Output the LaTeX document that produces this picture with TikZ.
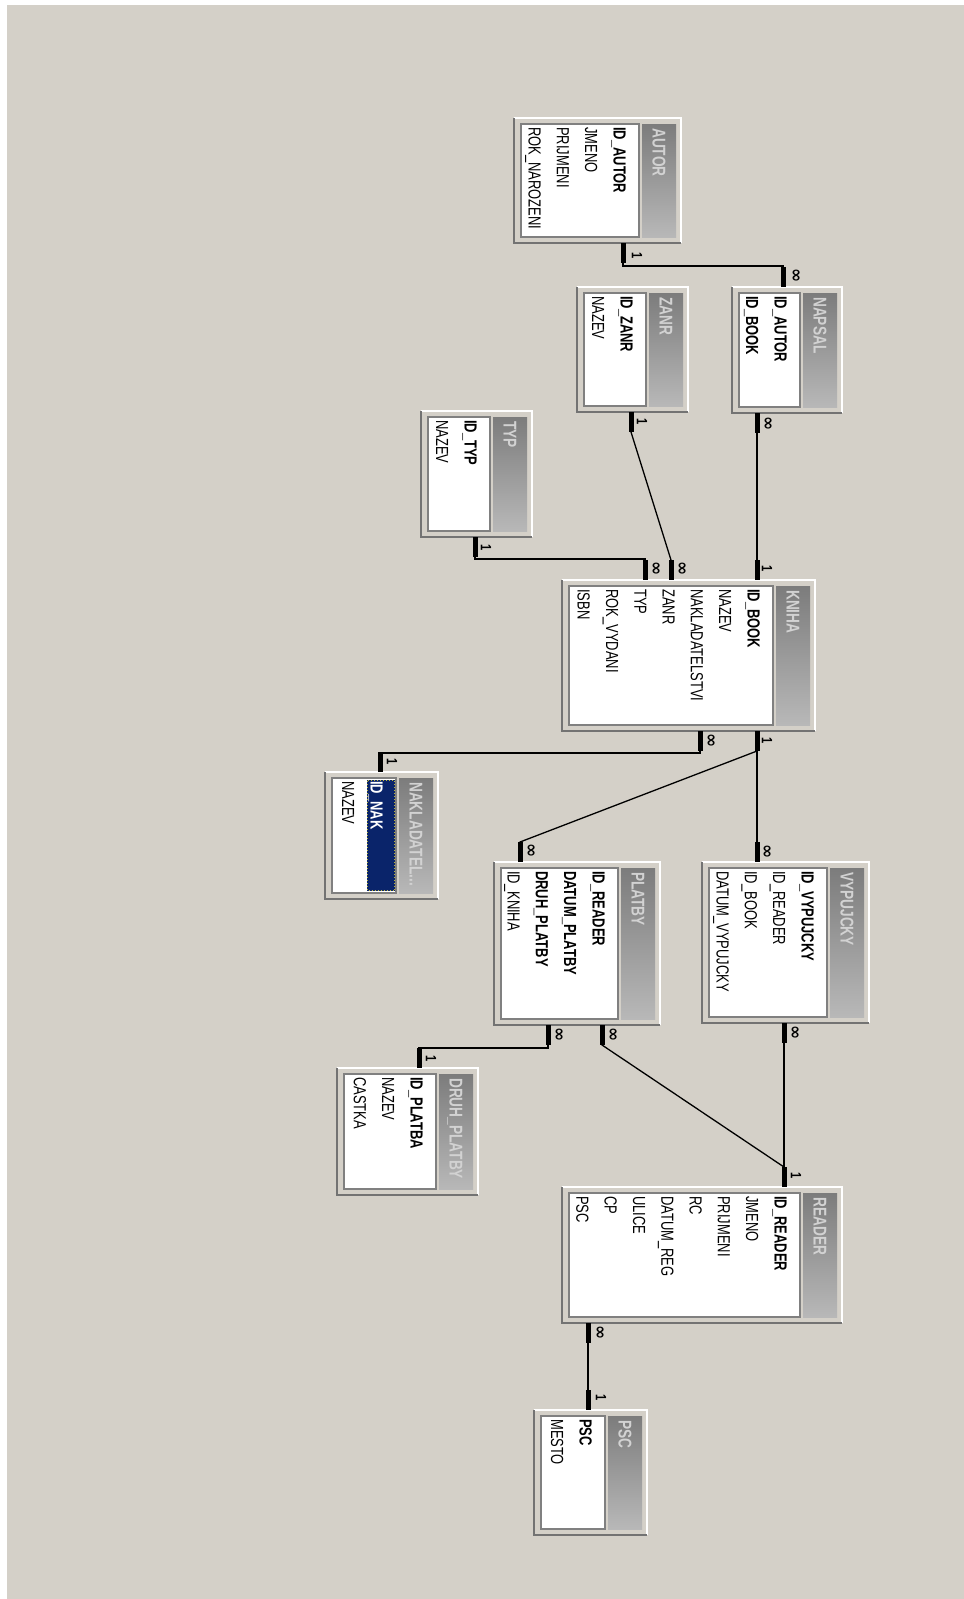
\documentclass[tikz,border=0pt]{standalone}
\usepackage{fontspec}
\usetikzlibrary{fit,calc}
\newfontfamily\erfont[FakeStretch=0.74]{Liberation Sans}
\newfontfamily\symfont{DejaVu Sans}
\definecolor{winbg}{HTML}{D4D0C8}
\definecolor{stripdark}{HTML}{7C7C7C}
\definecolor{striplight}{HTML}{B8B8B8}
\definecolor{titlegray}{HTML}{D2D2D2}
\definecolor{selnavy}{HTML}{0A246A}

\tikzset{
  frameshadow/.style={draw=black!55, line width=2.5pt},
  framelight/.style={draw=white, line width=1.5pt},
  panel/.style={fill=white, draw=black!50, line width=1.5pt},
  fnorm/.style={rotate=-90, anchor=base west, inner sep=0pt,
    font=\erfont\fontsize{17.5}{19}\selectfont},
  fkey/.style={fnorm, font=\erfont\bfseries\fontsize{17.5}{19}\selectfont},
  fsel/.style={fkey, text=white},
  ttitle/.style={rotate=-90, anchor=base west, inner sep=0pt, text=titlegray,
    font=\erfont\bfseries\fontsize{18.5}{20}\selectfont},
  endmark/.style={line width=5pt},
  link/.style={line width=1.3pt},
  lblone/.style={rotate=-90, inner sep=0pt, font=\erfont\bfseries\fontsize{15}{15}\selectfont},
  lblmany/.style={rotate=-90, inner sep=0pt, font=\symfont\bfseries\fontsize{17}{17}\selectfont},
}

% #1 name, #2..#5 outer box (x1,y1,x2,y2), #6 title, #7 fields, #8 extra drawing on the panel
\newcommand\erTable[8]{%
  \fill[winbg] (#2,#3) rectangle (#4,#5);
  \draw[framelight] (#2,#3) -- (#4,#3) -- (#4,#5);
  \draw[frameshadow] (#2,#3) -- (#2,#5) -- (#4,#5);
  \draw[panel] ({#2+7},{#3+6}) rectangle ({#4-42},{#5-6});
  \shade[top color=stripdark, bottom color=striplight] ({#4-39},{#3+6}) rectangle ({#4-5},{#5-6});
  #8
  \node[ttitle] at ({#4-28.5},{#3+10}) {#6};
  \foreach \fsty/\fname [count=\fidx from 0] in {#7}
    \node[\fsty] at ({#4-67.5-28.3*\fidx},{#3+9}) {\fname};
  \node[fit={(#2,#3) (#4,#5)}, inner sep=0pt] (#1) {};
}

\begin{document}
\begin{tikzpicture}[x=1pt, y=-1pt]
\useasboundingbox (0,0) rectangle (964,1599);
\fill[white] (0,0) rectangle (964,1599);
\fill[winbg] (7,5) rectangle (964,1599);

% tables
\erTable{autor}{514}{118}{681}{243}{AUTOR}
  {fkey/ID\_AUTOR, fnorm/JMENO, fnorm/PRIJMENI, fnorm/ROK\_NAROZENI}{}
\erTable{zanr}{577}{287}{688}{412}{ZANR}
  {fkey/ID\_ZANR, fnorm/NAZEV}{}
\erTable{napsal}{732}{287}{842}{413}{NAPSAL}
  {fkey/ID\_AUTOR, fkey/ID\_BOOK}{}
\erTable{typ}{421}{411}{532}{537}{TYP}
  {fkey/ID\_TYP, fnorm/NAZEV}{}
\erTable{kniha}{562}{580}{815}{731}{KNIHA}
  {fkey/ID\_BOOK, fnorm/NAZEV, fnorm/NAKLADATELSTVI, fnorm/ZANR, fnorm/TYP, fnorm/ROK\_VYDANI, fnorm/ISBN}{}
\erTable{naklad}{325}{772}{438}{899}{NAKLADATEL...}
  {fsel/ID\_NAK, fnorm/NAZEV}
  {\fill[selnavy] (367,780) rectangle (395,891);
   \draw[yellow!70!black, dotted, line width=1pt] (367.5,780.5) rectangle (394.5,890.5);}
\erTable{platby}{494}{862}{660}{1025}{PLATBY}
  {fkey/ID\_READER, fkey/DATUM\_PLATBY, fkey/DRUH\_PLATBY, fnorm/ID\_KNIHA}{}
\erTable{vypujcky}{702}{862}{869}{1023}{VYPUJCKY}
  {fkey/ID\_VYPUJCKY, fnorm/ID\_READER, fnorm/ID\_BOOK, fnorm/DATUM\_VYPUJCKY}{}
\erTable{druh}{337}{1068}{478}{1195}{DRUH\_PLATBY}
  {fkey/ID\_PLATBA, fnorm/NAZEV, fnorm/CASTKA}{}
\erTable{reader}{562}{1187}{842}{1323}{READER}
  {fkey/ID\_READER, fnorm/JMENO, fnorm/PRIJMENI, fnorm/RC, fnorm/DATUM\_REG, fnorm/ULICE, fnorm/CP, fnorm/PSC}{}
\erTable{psc}{534}{1410}{647}{1535}{PSC}
  {fkey/PSC, fnorm/MESTO}{}

% AUTOR 1 -- oo NAPSAL
\draw[link] (autor.south -| 623,0) -- (623,266) -- (783,266) -- (napsal.north -| 783,0);
\draw[endmark] (autor.south -| 623,0) -- ++(0,20);
\draw[endmark] (napsal.north -| 783,0) -- ++(0,-20);
\node[lblone] (l1a) at (637,256) {1};
\node[lblmany] (l1b) at (796,276) {∞};

% NAPSAL oo -- 1 KNIHA
\draw[link] (napsal.south -| 757,0) -- (kniha.north -| 757,0);
\draw[endmark] (napsal.south -| 757,0) -- ++(0,20);
\draw[endmark] (kniha.north -| 757,0) -- ++(0,-20);
\node[lblmany] (l2a) at (768,424) {∞};
\node[lblone] (l2b) at (767,569) {1};

% ZANR 1 -- oo KNIHA
\draw[link] (zanr.south -| 631,0) -- (631,432) -- (671,560) -- (kniha.north -| 671,0);
\draw[endmark] (zanr.south -| 631,0) -- ++(0,20);
\draw[endmark] (kniha.north -| 671,0) -- ++(0,-20);
\node[lblone] (l3a) at (642,422) {1};
\node[lblmany] (l3b) at (682,569) {∞};

% TYP 1 -- oo KNIHA
\draw[link] (typ.south -| 475,0) -- (475,559) -- (645,559) -- (kniha.north -| 645,0);
\draw[endmark] (typ.south -| 475,0) -- ++(0,20);
\draw[endmark] (kniha.north -| 645,0) -- ++(0,-20);
\node[lblone] (l4a) at (486,548) {1};
\node[lblmany] (l4b) at (656,569) {∞};

% KNIHA oo -- 1 NAKLADATEL
\draw[link] (kniha.south -| 700,0) -- (700,753) -- (380,753) -- (naklad.north -| 380,0);
\draw[endmark] (kniha.south -| 700,0) -- ++(0,20);
\draw[endmark] (naklad.north -| 380,0) -- ++(0,-20);
\node[lblmany] (l5a) at (711,741) {∞};
\node[lblone] (l5b) at (392,762) {1};

% KNIHA 1 -- oo VYPUJCKY, KNIHA 1 -- oo PLATBY
\draw[link] (kniha.south -| 757,0) -- (vypujcky.north -| 757,0);
\draw[link] (757,751) -- (520,842) -- (platby.north -| 520,0);
\draw[endmark] (kniha.south -| 757,0) -- ++(0,20);
\draw[endmark] (vypujcky.north -| 757,0) -- ++(0,-20);
\draw[endmark] (platby.north -| 520,0) -- ++(0,-20);
\node[lblone] (l6a) at (767,741) {1};
\node[lblmany] (l6b) at (767,852) {∞};
\node[lblmany] (l7b) at (531,851) {∞};

% PLATBY oo -- 1 DRUH_PLATBY
\draw[link] (platby.south -| 548,0) -- (548,1048) -- (419,1048) -- (druh.north -| 419,0);
\draw[endmark] (platby.south -| 548,0) -- ++(0,20);
\draw[endmark] (druh.north -| 419,0) -- ++(0,-20);
\node[lblmany] (l8a) at (559,1035) {∞};
\node[lblone] (l8b) at (431,1059) {1};

% PLATBY oo -- 1 READER, VYPUJCKY oo -- 1 READER
\draw[link] (platby.south -| 602,0) -- (602,1045) -- (784,1167) -- (reader.north -| 784,0);
\draw[link] (vypujcky.south -| 784,0) -- (reader.north -| 784,0);
\draw[endmark] (platby.south -| 602,0) -- ++(0,20);
\draw[endmark] (vypujcky.south -| 784,0) -- ++(0,20);
\draw[endmark] (reader.north -| 784,0) -- ++(0,-20);
\node[lblmany] (l9a) at (613,1035) {∞};
\node[lblmany] (l10a) at (795,1033) {∞};
\node[lblone] (l9b) at (796,1176) {1};

% READER oo -- 1 PSC
\draw[link] (reader.south -| 588,0) -- (psc.north -| 588,0);
\draw[endmark] (reader.south -| 588,0) -- ++(0,20);
\draw[endmark] (psc.north -| 588,0) -- ++(0,-20);
\node[lblmany] (l11a) at (600,1333) {∞};
\node[lblone] (l11b) at (601,1398) {1};
\end{tikzpicture}
\end{document}
